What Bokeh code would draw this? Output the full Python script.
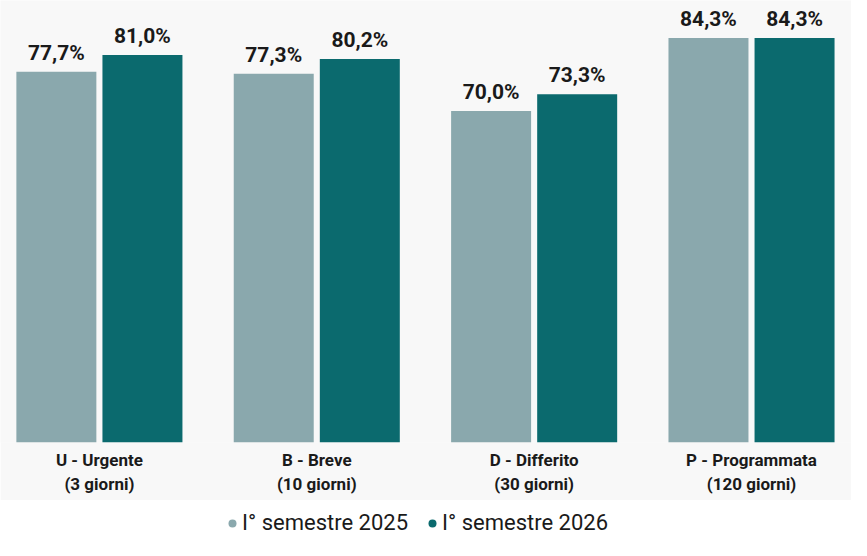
from bokeh.plotting import figure
from bokeh.models import ColumnDataSource, Range1d, FixedTicker, Legend, LegendItem
from bokeh.layouts import column
from bokeh.transform import dodge
from bokeh.core.properties import value
from bokeh.embed import file_html
from bokeh.resources import INLINE

# ---- data ----
categories = ["U - Urgente", "B - Breve", "D - Differito", "P - Programmata"]
windows = ["(3 giorni)", "(10 giorni)", "(30 giorni)", "(120 giorni)"]
sem_2025 = [77.7, 77.3, 70.0, 84.3]
sem_2026 = [81.0, 80.2, 73.3, 84.3]
series_names = ["I° semestre 2025", "I° semestre 2026"]

LIGHT = "#8aa8ad"
DARK = "#0b6a6e"
BG = "#f8f8f8"
FONT = "Roboto"
BASE = 5

idx = list(range(len(categories)))

def fmt(v):
    return f"{v:.1f}%".replace(".", ",")

src = ColumnDataSource(dict(
    x=idx,
    a=sem_2025,
    b=sem_2026,
    la=[fmt(v) for v in sem_2025],
    lb=[fmt(v) for v in sem_2026],
))

p = figure(width=851, height=500, output_backend="svg", toolbar_location=None,
           x_range=Range1d(-0.455, 3.46), y_range=Range1d(BASE, 91.67),
           min_border_left=0, min_border_right=0, min_border_top=0,
           min_border_bottom=58)
p.background_fill_color = BG
p.border_fill_color = BG
p.outline_line_color = None
p.grid.visible = False
p.yaxis.visible = False

off = 0.198
bw = 0.368
p.vbar(x=dodge("x", -off, range=p.x_range), top="a", bottom=BASE, width=bw, source=src,
       fill_color=LIGHT, line_color=None)
p.vbar(x=dodge("x", off, range=p.x_range), top="b", bottom=BASE, width=bw, source=src,
       fill_color=DARK, line_color=None)

for col, lab, d in (("a", "la", -off), ("b", "lb", off)):
    p.text(x=dodge("x", d, range=p.x_range), y=col, text=lab, source=src,
           text_align="center", text_baseline="alphabetic", y_offset=-19,
           text_font=value(FONT), text_font_style="bold", text_font_size="21px",
           text_color="#1a1a1a")

xa = p.xaxis[0]
xa.ticker = FixedTicker(ticks=idx)
xa.major_label_overrides = {i: f"{c}\n{w}" for i, c, w in zip(idx, categories, windows)}
xa.axis_line_color = None
xa.major_tick_line_color = None
xa.minor_tick_line_color = None
xa.major_tick_out = 0
xa.major_tick_in = 0
xa.major_label_standoff = 7
xa.major_label_text_font = FONT
xa.major_label_text_font_style = "bold"
xa.major_label_text_font_size = "17px"
xa.major_label_text_color = "#1a1a1a"
xa.major_label_text_line_height = 1.2

# ---- legend strip ----
q = figure(width=851, height=40, output_backend="svg", toolbar_location=None,
           x_range=Range1d(0, 1), y_range=Range1d(0, 1),
           min_border_left=0, min_border_right=0, min_border_top=0,
           min_border_bottom=0)
q.background_fill_color = "white"
q.border_fill_color = "white"
q.outline_line_color = None
q.grid.visible = False
q.axis.visible = False
hidden = dict(x=[-10], y=[-10])
r1 = q.scatter(x="x", y="y", source=ColumnDataSource(hidden), marker="circle", size=9,
               fill_color=LIGHT, line_color=None)
r2 = q.scatter(x="x", y="y", source=ColumnDataSource(hidden), marker="circle", size=9,
               fill_color=DARK, line_color=None)
leg = Legend(items=[LegendItem(label=series_names[0], renderers=[r1]),
                    LegendItem(label=series_names[1], renderers=[r2])],
             location=(222, 5), orientation="horizontal",
             glyph_width=20, glyph_height=20, label_standoff=0, spacing=14,
             padding=0, margin=0, border_line_color=None, background_fill_alpha=0,
             label_text_font=FONT, label_text_font_size="22px", label_text_color="#1a1a1a")
q.add_layout(leg, "center")

layout = column(p, q, spacing=0)
open("out.html", "w").write(file_html(layout, INLINE))
